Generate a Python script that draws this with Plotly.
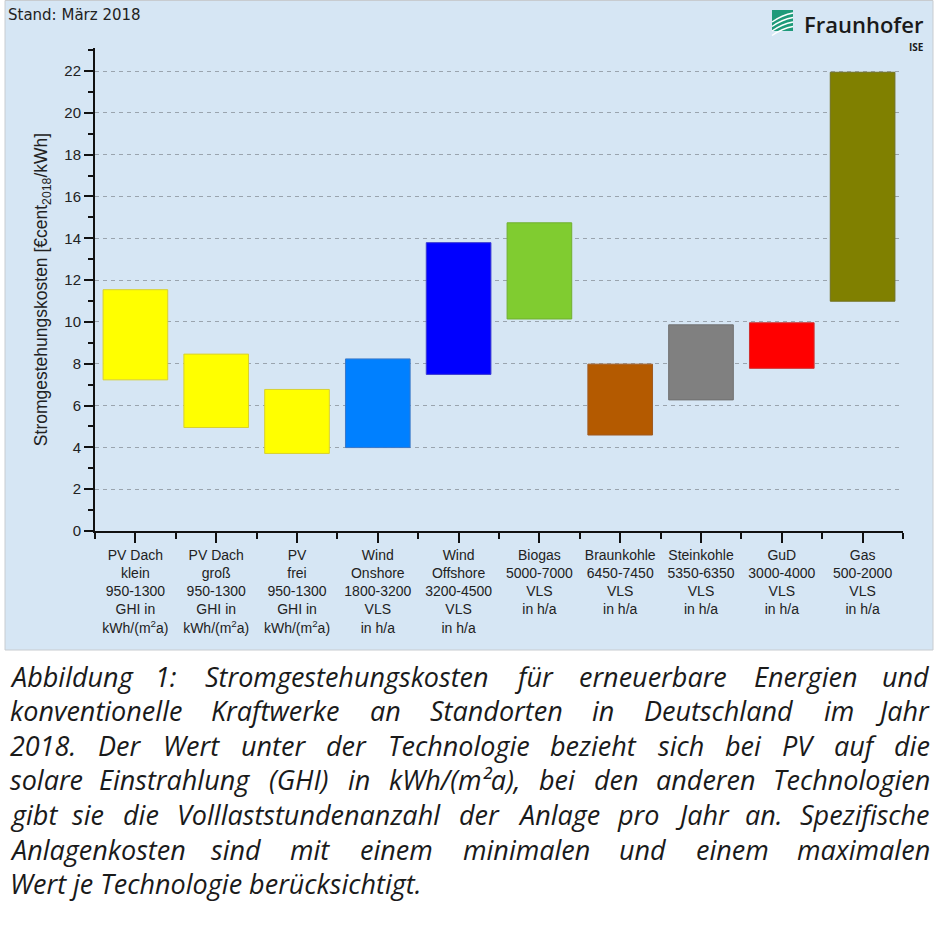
import plotly.graph_objects as go

# ---- data ----
categories = [
    "PV Dach<br>klein<br>950-1300<br>GHI in<br>kWh/(m<sup>2</sup>a)",
    "PV Dach<br>groß<br>950-1300<br>GHI in<br>kWh/(m<sup>2</sup>a)",
    "PV<br>frei<br>950-1300<br>GHI in<br>kWh/(m<sup>2</sup>a)",
    "Wind<br>Onshore<br>1800-3200<br>VLS<br>in h/a",
    "Wind<br>Offshore<br>3200-4500<br>VLS<br>in h/a",
    "Biogas<br>5000-7000<br>VLS<br>in h/a",
    "Braunkohle<br>6450-7450<br>VLS<br>in h/a",
    "Steinkohle<br>5350-6350<br>VLS<br>in h/a",
    "GuD<br>3000-4000<br>VLS<br>in h/a",
    "Gas<br>500-2000<br>VLS<br>in h/a",
]
lcoe_min = [7.23, 4.95, 3.71, 3.99, 7.49, 10.14, 4.59, 6.27, 7.78, 10.99]
lcoe_max = [11.54, 8.46, 6.77, 8.23, 13.79, 14.74, 7.98, 9.86, 9.96, 21.94]
bar_colors = ["#ffff00", "#ffff00", "#ffff00", "#0080ff", "#0000ff",
              "#80cc30", "#b45a00", "#808080", "#ff0000", "#808000"]
edge_colors = ["#d8d030", "#d8d030", "#d8d030", "#3a78c8", "#3a3ad0",
               "#70b030", "#a05a20", "#707070", "#d03030", "#707020"]
y_ticks = [0, 2, 4, 6, 8, 10, 12, 14, 16, 18, 20, 22]

caption_lines = [
    "Abbildung 1: Stromgestehungskosten für erneuerbare Energien und",
    "konventionelle Kraftwerke an Standorten in Deutschland im Jahr",
    "2018. Der Wert unter der Technologie bezieht sich bei PV auf die",
    "solare Einstrahlung (GHI) in kWh/(m²a), bei den anderen Technologien",
    "gibt sie die Volllaststundenanzahl der Anlage pro Jahr an. Spezifische",
    "Anlagenkosten sind mit einem minimalen und einem maximalen",
    "Wert je Technologie berücksichtigt.",
]

W, H = 951, 926
L, R, T, B = 95, 48, 48, 395
PW, PH = W - L - R, H - T - B


def px(x):
    return (x - L) / PW


def py(y):
    return (H - B - y) / PH


# approximate advance widths (em) for Open Sans Italic, used only to justify caption words
_CW = {
    "a": .56, "b": .56, "c": .45, "d": .56, "e": .50, "f": .31, "g": .50, "h": .58,
    "i": .25, "j": .25, "k": .50, "l": .25, "m": .88, "n": .58, "o": .55, "p": .56,
    "q": .56, "r": .39, "s": .44, "t": .33, "u": .58, "v": .48, "w": .75, "x": .48,
    "y": .48, "z": .44, "ü": .58, "ä": .56, "ß": .56,
    "A": .58, "B": .62, "C": .60, "D": .70, "E": .54, "F": .50, "G": .70, "H": .72,
    "I": .28, "J": .27, "K": .58, "L": .50, "M": .88, "N": .73, "O": .75, "P": .58,
    "R": .60, "S": .52, "T": .54, "V": .58, "W": .90,
    ".": .25, ",": .24, ":": .25, "(": .28, ")": .28, "/": .36, "²": .33,
}


def est_width(word, size):
    return sum(_CW.get(c, .57) for c in word) * size


CAP_SIZE = 27
CAP_X0, CAP_X1 = 8, 932

xs = list(range(len(categories)))
heights = [hi - lo for lo, hi in zip(lcoe_min, lcoe_max)]

fig = go.Figure()
fig.add_trace(go.Bar(
    x=xs, y=heights, base=lcoe_min, width=0.8,
    marker=dict(color=bar_colors, line=dict(color=edge_colors, width=1)),
    hoverinfo="skip", showlegend=False,
))

BG = "#d6e6f4"
shapes = [
    dict(type="rect", xref="paper", yref="paper", x0=px(5), x1=px(933),
         y0=py(650), y1=py(0.5), fillcolor=BG, line=dict(color="#c8ccd0", width=1),
         layer="below"),
    # logo icon
    dict(type="rect", xref="paper", yref="paper", x0=px(772), x1=px(793),
         y0=py(31), y1=py(10), fillcolor="#1f9a7a", line=dict(width=0), layer="above"),
]
for k in range(4):
    y0 = 14 + k * 4.5
    shapes.append(dict(type="path", xref="paper", yref="paper",
                       path=f"M {px(772)},{py(y0 + 8)} Q {px(782)},{py(y0 + 1)} {px(793)},{py(y0 - 1)}",
                       line=dict(color="white", width=1.3), layer="above"))

annotations = [
    dict(text="Stand: März 2018", xref="paper", yref="paper", x=px(6), y=py(15),
         xanchor="left", yanchor="middle", showarrow=False,
         font=dict(family="DejaVu Sans", size=15, color="#222222")),
    dict(text="Fraunhofer", xref="paper", yref="paper", x=px(926), y=py(24),
         xanchor="right", yanchor="middle", showarrow=False,
         font=dict(family="Open Sans", size=22, color="#1a1a1a", weight=600)),
    dict(text="ISE", xref="paper", yref="paper", x=px(926), y=py(47),
         xanchor="right", yanchor="middle", showarrow=False,
         font=dict(family="Open Sans", size=10, color="#1a1a1a", weight=700)),
]

cap_font = dict(family="Open Sans", size=CAP_SIZE, color="#1a1a1a", style="italic")
for i, line in enumerate(caption_lines):
    ypos = py(676 + i * 34.6)
    if i == len(caption_lines) - 1:
        annotations.append(dict(text=line, xref="paper", yref="paper", x=px(CAP_X0), y=ypos,
                                xanchor="left", yanchor="middle", showarrow=False, font=cap_font))
        continue
    words = line.split(" ")
    widths = [est_width(w, CAP_SIZE) for w in words]
    gap = (CAP_X1 - CAP_X0 - sum(widths)) / (len(words) - 1)
    cur = CAP_X0
    for j, (w, wd) in enumerate(zip(words, widths)):
        if j == 0:
            x, anchor = cur, "left"
        elif j == len(words) - 1:
            x, anchor = CAP_X1, "right"
        else:
            x, anchor = cur + wd / 2, "center"
        annotations.append(dict(text=w, xref="paper", yref="paper", x=px(x), y=ypos,
                                xanchor=anchor, yanchor="middle", showarrow=False, font=cap_font))
        cur += wd + gap

fig.update_layout(
    width=W, height=H,
    margin=dict(l=L, r=R, t=T, b=B, autoexpand=False),
    paper_bgcolor="white", plot_bgcolor=BG,
    font=dict(family="Liberation Sans, Arial", color="#222222"),
    shapes=shapes, annotations=annotations,
    bargap=0.2,
)
fig.update_xaxes(
    range=[-0.5, 9.5], tickmode="array", tickvals=xs, ticktext=categories,
    ticks="outside", ticklen=10, tickwidth=2, tickcolor="#111111",
    showline=True, linecolor="#111111", linewidth=2, showgrid=False, zeroline=False,
    tickfont=dict(size=14, family="Liberation Sans", color="#222222"),
    minor=dict(tickmode="array", tickvals=[v - 0.5 for v in xs] + [xs[-1] + 0.5],
               ticks="outside", ticklen=6, tickwidth=2, tickcolor="#111111", showgrid=False),
    fixedrange=True,
)
fig.update_yaxes(
    range=[0, 23.1], tickmode="array", tickvals=y_ticks,
    ticks="outside", ticklen=9, tickwidth=2, tickcolor="#111111",
    showline=True, linecolor="#111111", linewidth=2, zeroline=False,
    showgrid=True, gridcolor="#9aa4ae", griddash="4px,4px", gridwidth=1,
    tickfont=dict(size=15, family="Liberation Sans", color="#222222"),
    minor=dict(dtick=1, tick0=1, ticks="outside", ticklen=5, tickwidth=2,
               tickcolor="#111111", showgrid=False),
    title=dict(text="Stromgestehungskosten [€cent<sub>2018</sub>/kWh]",
               font=dict(size=17.5, family="Liberation Sans", color="#222222"), standoff=12),
    fixedrange=True,
)

fig.write_html("out.html", config={"displayModeBar": False},
               post_script="document.body.style.margin='0';")
